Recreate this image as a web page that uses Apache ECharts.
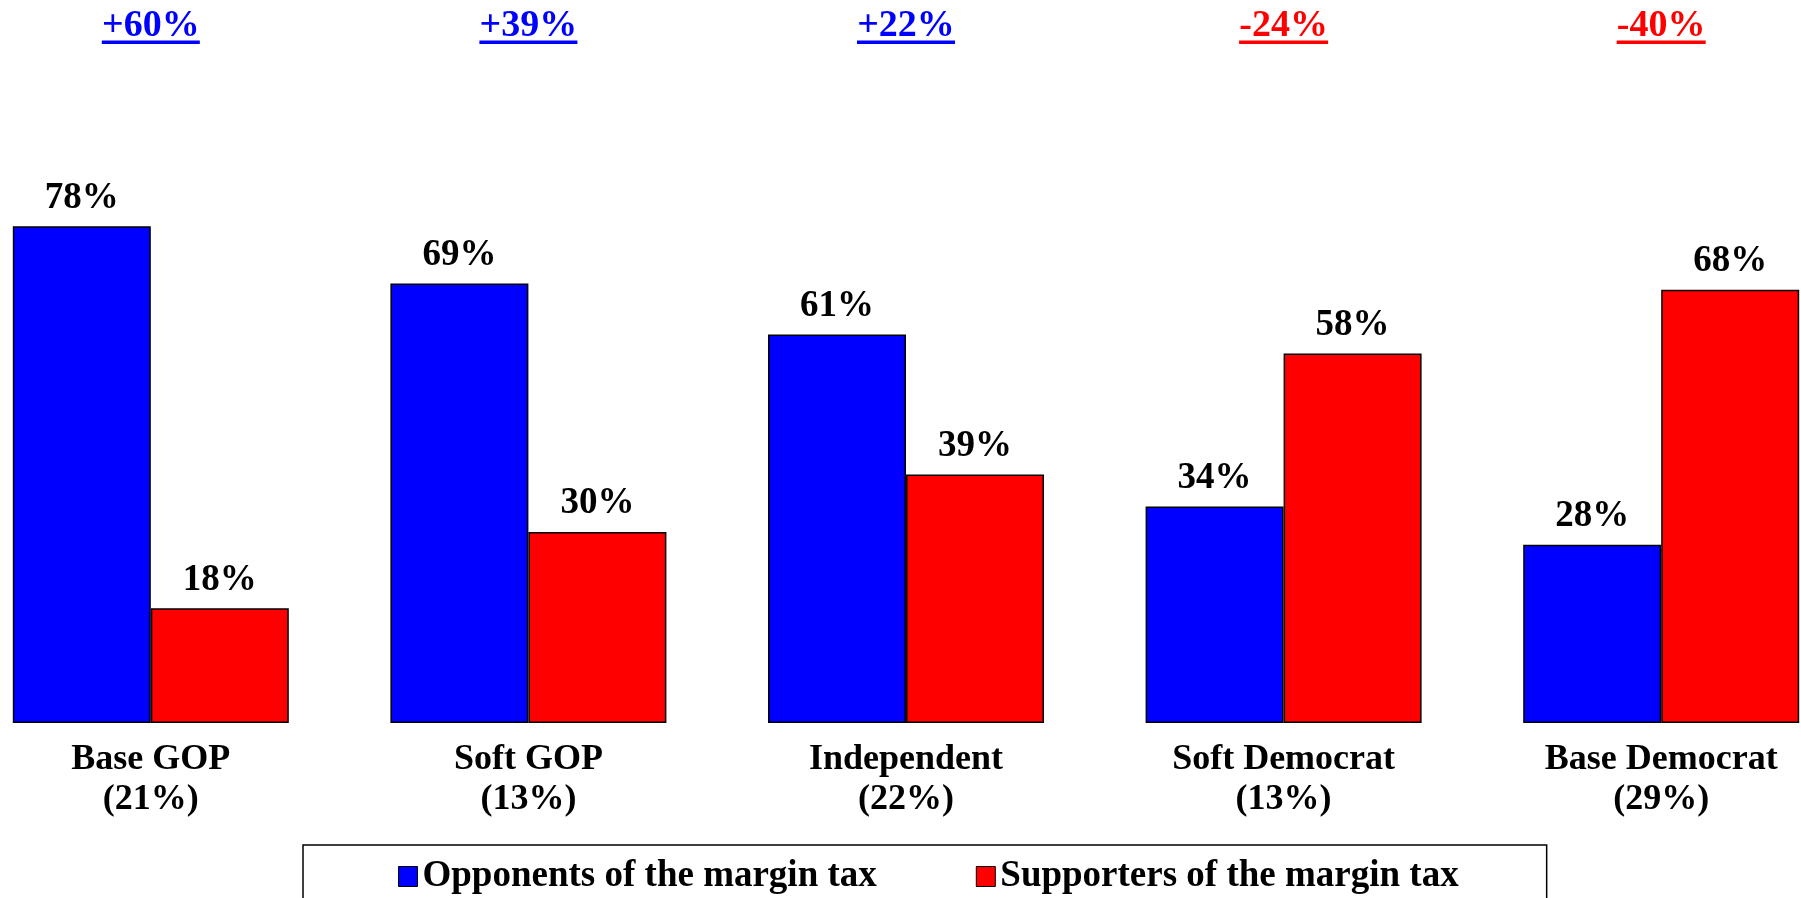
<!DOCTYPE html>
<html>
<head>
<meta charset="utf-8">
<script src="https://cdn.jsdelivr.net/npm/echarts@6/dist/echarts.min.js"></script>
<style>
  html, body { margin: 0; padding: 0; background: #fff; overflow: hidden; }
  /* first and last group sit partly outside the window, so the canvas is wider than it */
  #chart { position: absolute; left: -38px; top: 0; width: 1888px; height: 898px; }
</style>
</head>
<body>
<div id="chart"></div>
<script>
var groups = ['Base GOP', 'Soft GOP', 'Independent', 'Soft Democrat', 'Base Democrat'];
var shares = ['21%', '13%', '22%', '13%', '29%'];
var opponents = [78, 69, 61, 34, 28];
var supporters = [18, 30, 39, 58, 68];
var gaps = ['+60%', '+39%', '+22%', '-24%', '-40%'];

var FONT = "'Liberation Serif', 'Times New Roman', serif";
var BLUE = '#0000ff';
var RED = '#ff0000';
var OFFSET = 38;

// width of a gap label, so the underline matches the text
var measure = document.createElement('canvas').getContext('2d');
measure.font = 'bold 38px ' + FONT;
function textWidth(s) {
    return Math.round(measure.measureText(s).width);
}

var categories = groups.map(function (g, i) {
    return g + '\n(' + shares[i] + ')';
});

var rich = {};
gaps.forEach(function (g, i) {
    var color = g.charAt(0) === '-' ? RED : BLUE;
    rich['t' + i] = {
        fontFamily: FONT, fontWeight: 'bold', fontSize: 38,
        lineHeight: 29, color: color
    };
    rich['u' + i] = {
        width: textWidth(g), height: 3.5, lineHeight: 3.5,
        backgroundColor: color, fontSize: 1
    };
});

function barLabel() {
    return {
        show: true,
        position: 'top',
        distance: 10,
        formatter: '{c}%',
        fontFamily: FONT,
        fontWeight: 'bold',
        fontSize: 37,
        lineHeight: 36,
        color: '#000'
    };
}

var option = {
    backgroundColor: '#fff',
    animation: false,
    grid: { left: 0, right: 0, top: 86, bottom: 175 },
    legend: {
        left: 303 + OFFSET,
        top: 845,
        selectedMode: false,
        borderColor: '#000',
        borderWidth: 1.5,
        padding: [13, 88, 40, 95],
        itemGap: 99,
        itemWidth: 19,
        itemHeight: 20,
        icon: 'rect',
        itemStyle: { borderColor: '#000', borderWidth: 1 },
        textStyle: {
            fontFamily: FONT, fontWeight: 'bold', fontSize: 37, color: '#000'
        },
        data: ['Opponents of the margin tax', 'Supporters of the margin tax']
    },
    xAxis: [{
        type: 'category',
        data: categories,
        axisLine: { show: false },
        axisTick: { show: false },
        axisLabel: {
            margin: 17,
            fontFamily: FONT,
            fontWeight: 'bold',
            fontSize: 36,
            lineHeight: 40,
            color: '#000'
        }
    }, {
        type: 'category',
        position: 'top',
        data: categories,
        axisLine: { show: false },
        axisTick: { show: false },
        axisLabel: {
            margin: 42,
            formatter: function (v, i) {
                return '{t' + i + '|' + gaps[i] + '}\n{u' + i + '| }';
            },
            rich: rich
        }
    }],
    yAxis: {
        type: 'value',
        min: 0,
        max: 100,
        show: false,
        splitLine: { show: false }
    },
    series: [{
        name: 'Opponents of the margin tax',
        type: 'bar',
        data: opponents,
        barWidth: 138,
        barGap: '0%',
        itemStyle: { color: BLUE, borderColor: '#000', borderWidth: 1.5 },
        label: barLabel()
    }, {
        name: 'Supporters of the margin tax',
        type: 'bar',
        data: supporters,
        barWidth: 138,
        barGap: '0%',
        itemStyle: { color: RED, borderColor: '#000', borderWidth: 1.5 },
        label: barLabel()
    }]
};

var chart = echarts.init(document.getElementById('chart'));
chart.setOption(option);
</script>
</body>
</html>
